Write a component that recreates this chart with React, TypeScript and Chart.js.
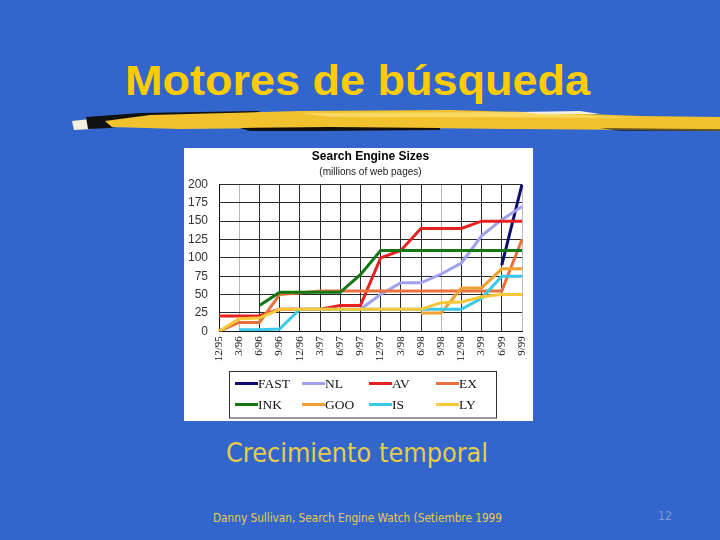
import React, { useEffect, useRef } from "react";
import { Chart, registerables } from "chart.js";

Chart.register(...registerables);

const categories = ["12/95","3/96","6/96","9/96","12/96","3/97","6/97","9/97","12/97","3/98","6/98","9/98","12/98","3/99","6/99","9/99"];
const yTicks = [0, 25, 50, 75, 100, 125, 150, 175, 200];

const FAST = [null,null,null,null,null,null,null,null,null,null,null,null,null,null,90,200];
const NL = [null,null,null,null,null,null,null,30,50,66,66,78,93,130,152,170];
const AV = [21,21,21,30,30,30,35,35,100,110,140,140,140,150,150,150];
const EX = [0,12,12,50,52,55,55,55,55,55,55,55,55,55,55,125];
const INK = [null,null,35,53,53,53,53,77,110,110,110,110,110,110,110,110];
const GOO = [null,null,null,null,null,null,null,null,null,null,25,25,59,59,85,85];
const IS = [null,2,2,3,30,30,30,30,30,30,30,30,30,45,75,75];
const LY = [0,17,18,30,30,30,30,30,30,30,30,39,40,47,50,50];

const seriesNames = ["FAST","NL","AV","EX","INK","GOO","IS","LY"];
const seriesValues = [FAST, NL, AV, EX, INK, GOO, IS, LY];
const seriesColors = ["#0C0C70","#A0A0F0","#E82020","#E8703A","#127612","#F0A030","#38C8E8","#F8C838"];

const lightGrid = [1, 11, 15];

const legendPlugin = {
  id: "boxLegend",
  afterDraw(chart: any) {
    const ctx = chart.ctx;
    ctx.save();
    ctx.strokeStyle = "#333";
    ctx.lineWidth = 1;
    ctx.strokeRect(45.5, 223.5, 267, 46.5);
    chart.data.datasets.forEach((ds: any, i: number) => {
      const col = i % 4;
      const row = Math.floor(i / 4);
      const x0 = 51 + col * 67;
      const y = row === 0 ? 235.5 : 256.5;
      ctx.strokeStyle = ds.borderColor;
      ctx.lineWidth = 3;
      ctx.beginPath();
      ctx.moveTo(x0, y);
      ctx.lineTo(x0 + 23, y);
      ctx.stroke();
      ctx.fillStyle = "#111";
      ctx.font = "13.5px 'Liberation Serif', 'Times New Roman', serif";
      ctx.textBaseline = "middle";
      ctx.textAlign = "left";
      ctx.fillText(ds.label, x0 + 23, y + 0.5);
    });
    ctx.restore();
  },
};

export default function App() {
  const ref = useRef<HTMLCanvasElement | null>(null);

  useEffect(() => {
    document.body.style.margin = "0";
    if (!ref.current) return;
    const chart = new Chart(ref.current, {
      type: "line",
      data: {
        labels: categories,
        datasets: seriesNames.map((name, i) => ({
          label: name,
          data: seriesValues[i],
          borderColor: seriesColors[i],
          backgroundColor: seriesColors[i],
          borderWidth: 3,
          pointRadius: 0,
          tension: 0,
          spanGaps: false,
          fill: false,
          order: 7 - i,
        })),
      },
      options: {
        responsive: false,
        animation: false,
        devicePixelRatio: 1,
        layout: { padding: { left: 0, right: 11, top: 0, bottom: 0 } },
        plugins: {
          legend: { display: false },
          tooltip: { enabled: false },
          title: {
            display: true,
            text: "Search Engine Sizes",
            fullSize: false,
            color: "#000",
            font: { family: "'Liberation Sans', Arial, sans-serif", size: 12, weight: "bold" },
            padding: { top: 1, bottom: 2 },
          },
          subtitle: {
            display: true,
            text: "(millions of web pages)",
            fullSize: false,
            color: "#222",
            font: { family: "'Liberation Sans', Arial, sans-serif", size: 10 },
            padding: { top: 1, bottom: 6 },
          },
        },
        scales: {
          x: {
            grid: {
              drawTicks: false,
              lineWidth: 1,
              color: (c: any) => (lightGrid.includes(c.index) ? "#b8b8b8" : "#2a2a2a"),
            },
            border: { display: true, color: "#111", width: 1 },
            ticks: {
              autoSkip: false,
              maxRotation: 90,
              minRotation: 90,
              padding: 5,
              color: "#111",
              font: { family: "'Liberation Serif', 'Times New Roman', serif", size: 11 },
            },
            afterFit: (s: any) => { s.height = 89.7; s.paddingRight = 0; s.paddingLeft = 0; },
          },
          y: {
            min: 0,
            max: 200,
            afterBuildTicks: (s: any) => { s.ticks = yTicks.map((v) => ({ value: v })); },
            grid: { drawTicks: false, color: "#2a2a2a", lineWidth: 1 },
            border: { display: true, color: "#111", width: 1 },
            ticks: {
              padding: 11,
              color: "#333",
              font: { family: "'Liberation Sans', Arial, sans-serif", size: 12 },
            },
            afterFit: (s: any) => { s.width = 35; },
          },
        },
      },
      plugins: [legendPlugin],
    } as any);
    return () => chart.destroy();
  }, []);

  return (
    <div style={{ position: "fixed", left: 0, top: 0, width: 720, height: 540, background: "#3366CC", overflow: "hidden" }}>
      <svg width={720} height={540} style={{ position: "absolute", left: 0, top: 0 }}>
        <text x={125} y={95} textLength={465} lengthAdjust="spacingAndGlyphs"
          style={{ font: "bold 42px 'Liberation Sans', Arial, sans-serif" }} fill="#FFCC00">Motores de búsqueda</text>
        {/* brush stroke */}
        <polygon points="72,121 90,119 92,129 74,130" fill="#F4F0E0" />
        <polygon points="86,117 140,113 260,111 250,116 150,121 110,128 88,129" fill="#111" />
        <polygon points="105,121 150,115 300,111 450,110 560,113 640,116 720,117 720,131 640,130 520,129 420,128 300,128 180,129 112,127" fill="#F2C22E" />
        <polygon points="300,113 520,112 640,118 480,117 330,117" fill="#F8D860" />
        <polygon points="520,112 580,111 600,114 540,114" fill="#F4F0E0" />
        <polygon points="240,128 330,127 440,128 440,130 320,131 250,131" fill="#111" />
        <polygon points="600,128 700,129 720,129 720,131 620,131" fill="#111" opacity={0.6} />
        <text x={226} y={462} textLength={262} lengthAdjust="spacingAndGlyphs"
          style={{ font: "27px 'DejaVu Sans', Tahoma, sans-serif" }} fill="#E8CC48">Crecimiento temporal</text>
        <text x={213} y={522} textLength={289} lengthAdjust="spacingAndGlyphs"
          style={{ font: "12px 'DejaVu Sans', Tahoma, sans-serif" }} fill="#E8CC48">Danny Sullivan, Search Engine Watch (Setiembre 1999</text>
        <text x={658} y={520} textLength={14} lengthAdjust="spacingAndGlyphs"
          style={{ font: "13px 'DejaVu Sans', Tahoma, sans-serif" }} fill="#7F99D0">12</text>
      </svg>
      <div style={{ position: "absolute", left: 184, top: 148, width: 349, height: 273, background: "#fff" }} />
      <canvas ref={ref} width={349} height={273}
        style={{ position: "absolute", left: 184, top: 148, width: 349, height: 273 }} />
    </div>
  );
}
